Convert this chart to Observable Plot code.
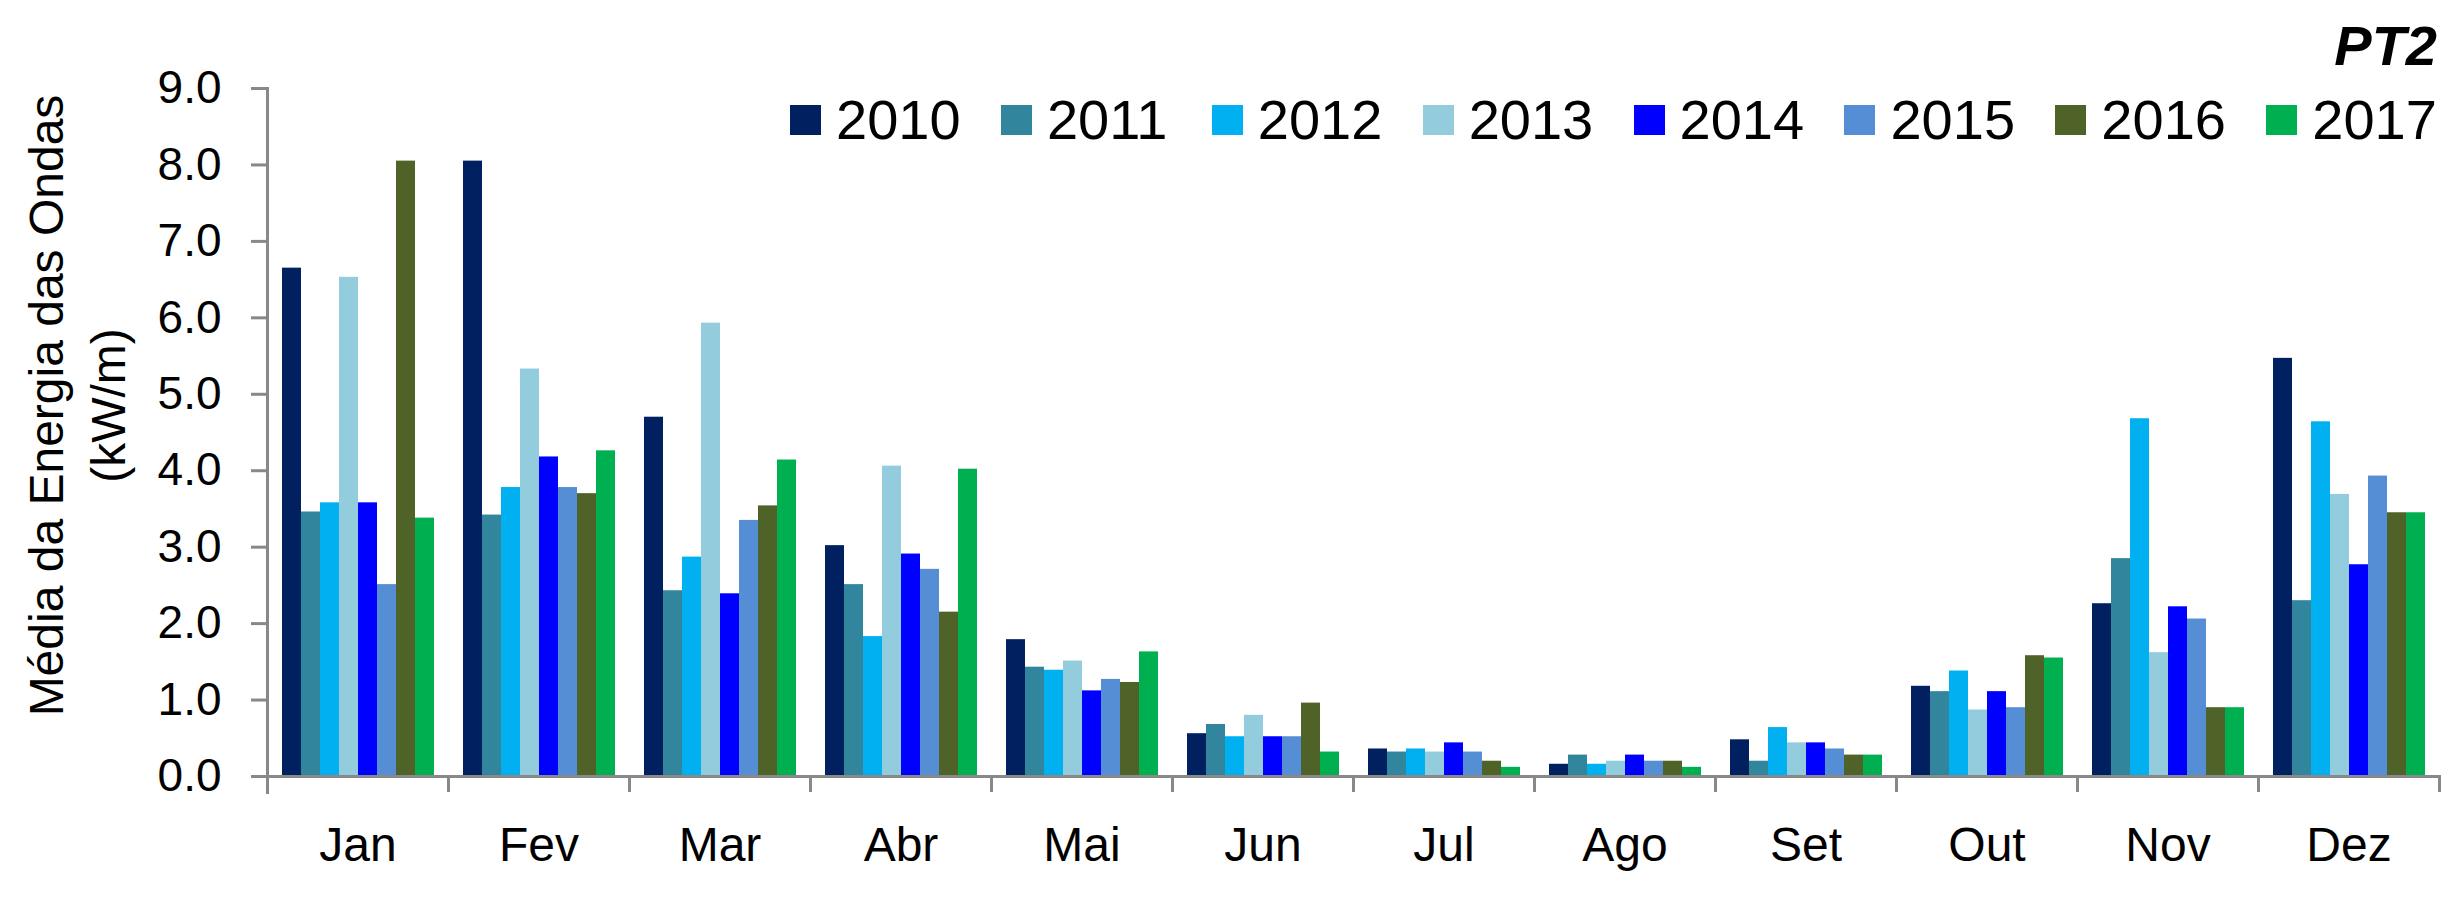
<!DOCTYPE html>
<html>
<head>
<meta charset="utf-8">
<script src="https://cdn.jsdelivr.net/npm/d3@7"></script>
<script src="https://cdn.jsdelivr.net/npm/@observablehq/plot@0.6"></script>
<style>
  html, body { margin: 0; padding: 0; background: #fff; }
  #wrap { position: relative; width: 2464px; height: 903px; font-family: "Liberation Sans", Arial, sans-serif; }
  #title { position: absolute; right: 27px; top: 18px; font-size: 56px; line-height: 56px; font-weight: bold; font-style: italic; color: #000; }
  #legend { position: absolute; left: 790px; top: 92px; display: flex; }
  .item { width: 210.9px; display: flex; align-items: center; height: 56px; }
  .sw { width: 31px; height: 30px; margin-right: 15px; flex: none; }
  .lab { font-size: 56px; line-height: 56px; color: #000; }
</style>
</head>
<body>
<div id="wrap">
  <div id="chart"></div>
  <div id="title">PT2</div>
  <div id="legend"></div>
</div>
<script>
const months = ["Jan","Fev","Mar","Abr","Mai","Jun","Jul","Ago","Set","Out","Nov","Dez"];
const years = ["2010","2011","2012","2013","2014","2015","2016","2017"];
const colors = ["#002060","#31859C","#00B0F0","#93CDDD","#0000FF","#558ED5","#4F6228","#00B050"];
const yTicks = [0,1,2,3,4,5,6,7,8,9];
const yLabel = "Média da Energia das Ondas\n(kW/m)";

const v2010 = [6.65, 8.05, 4.70, 3.02, 1.79, 0.56, 0.36, 0.16, 0.48, 1.18, 2.26, 5.47];
const v2011 = [3.46, 3.42, 2.43, 2.51, 1.43, 0.68, 0.32, 0.28, 0.20, 1.11, 2.85, 2.30];
const v2012 = [3.58, 3.78, 2.87, 1.83, 1.39, 0.52, 0.36, 0.16, 0.64, 1.38, 4.68, 4.64];
const v2013 = [6.53, 5.33, 5.93, 4.06, 1.51, 0.80, 0.32, 0.20, 0.44, 0.87, 1.62, 3.69];
const v2014 = [3.58, 4.18, 2.39, 2.91, 1.12, 0.52, 0.44, 0.28, 0.44, 1.11, 2.22, 2.77];
const v2015 = [2.51, 3.78, 3.35, 2.71, 1.27, 0.52, 0.32, 0.20, 0.36, 0.90, 2.06, 3.93];
const v2016 = [8.05, 3.70, 3.54, 2.15, 1.23, 0.96, 0.20, 0.20, 0.28, 1.58, 0.90, 3.45];
const v2017 = [3.38, 4.26, 4.14, 4.02, 1.63, 0.32, 0.12, 0.12, 0.28, 1.55, 0.90, 3.45];

const series = [v2010, v2011, v2012, v2013, v2014, v2015, v2016, v2017];
const data = years.flatMap((yr, i) => series[i].map((v, j) => ({year: yr, month: months[j], value: v})));

const axisGray = "#888888";

const chart = Plot.plot({
  width: 2464,
  height: 903,
  marginLeft: 264,
  marginRight: 22,
  marginTop: 88,
  marginBottom: 127,
  style: {fontFamily: "'Liberation Sans', Arial, sans-serif", background: "#fff", color: "#000", overflow: "visible"},
  fx: {domain: months, padding: 0, label: null, axis: null},
  x: {domain: years, paddingInner: 0, paddingOuter: 0.667, axis: null},
  y: {domain: [0, 9], label: null},
  color: {domain: years, range: colors},
  marks: [
    Plot.barY(data, {fx: "month", x: "year", y: "value", fill: "year"}),
    Plot.ruleY([0], {stroke: axisGray, strokeWidth: 3}),
    Plot.frame({anchor: "left", facetAnchor: "left", stroke: axisGray, strokeWidth: 3, insetBottom: -16}),
    Plot.frame({anchor: "left", stroke: axisGray, strokeWidth: 3, insetTop: 688, insetBottom: -14}),
    Plot.frame({anchor: "right", facetAnchor: "right", stroke: axisGray, strokeWidth: 3, insetTop: 688, insetBottom: -14}),
    Plot.axisY({ticks: yTicks, tickFormat: d => d.toFixed(1), tickSize: 16, tickPadding: 30, fontSize: 46, stroke: axisGray, strokeWidth: 3, fill: "#000", label: null}),
    Plot.axisFx({anchor: "bottom", tickSize: 0, tickPadding: 50, fontSize: 48, fill: "#000", label: null}),
    Plot.text([yLabel], {text: d => d, frameAnchor: "left", facetAnchor: "left", textAnchor: "middle", lineAnchor: "middle", rotate: -90, dx: -193, dy: -27, fontSize: 48, lineHeight: 1.29, fill: "#000"})
  ]
});
document.getElementById("chart").appendChild(chart);

const legend = d3.select("#legend");
years.forEach((yr, i) => {
  const it = legend.append("div").attr("class", "item");
  it.append("div").attr("class", "sw").style("background", colors[i]);
  it.append("div").attr("class", "lab").text(yr);
});
</script>
</body>
</html>
